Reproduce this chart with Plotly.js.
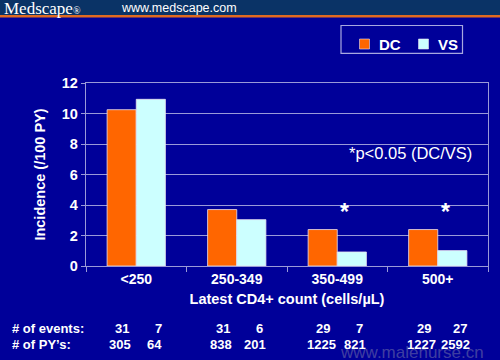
<!DOCTYPE html>
<html>
<head>
<meta charset="utf-8">
<script src="https://cdn.plot.ly/plotly-3.0.1.min.js"></script>
<style>
html,body{margin:0;padding:0;background:#000099;}
#chart{width:500px;height:360px;}
</style>
</head>
<body>
<div id="chart"></div>
<script>
// ---- data ----
var categories = ["<250", "250-349", "350-499", "500+"];
var seriesNames = ["DC", "VS"];
var dcValues = [10.25, 3.7, 2.39, 2.39];
var vsValues = [10.93, 3.04, 0.92, 1.01];
var eventsDC = [31, 31, 29, 29];
var eventsVS = [7, 6, 7, 27];
var pyDC = [305, 838, 1225, 1227];
var pyVS = [64, 201, 821, 2592];
var significant = [false, false, true, true];
var yTicks = [0, 2, 4, 6, 8, 10, 12];

// ---- layout geometry ----
var W = 500, H = 360;
var mL = 86, mR = 12, mT = 83, mB = 94;
var pw = W - mL - mR, ph = H - mT - mB;
function px(x) { return (x - mL) / pw; }
function py(y) { return (H - mB - y) / ph; }

var font = "Liberation Sans, Arial, sans-serif";
var grid = "#9a9ad8";
var colors = ["#ff6600", "#ccffff"];

var traces = [
  {type: "bar", name: seriesNames[0], x: categories, y: dcValues,
   marker: {color: colors[0], line: {color: "#e8e0f0", width: 0.8}}, hoverinfo: "none"},
  {type: "bar", name: seriesNames[1], x: categories, y: vsValues,
   marker: {color: colors[1], line: {color: "#e8e0f0", width: 0.8}}, hoverinfo: "none"}
];

var ann = [];
// header texts
ann.push({xref: "paper", yref: "paper", x: px(2), y: py(8), xanchor: "left", yanchor: "middle",
  text: "Medscape<span style='font-size:10px'>®</span>", showarrow: false,
  font: {family: "Liberation Serif, Times New Roman, serif", size: 17, color: "#ffffff"}});
ann.push({xref: "paper", yref: "paper", x: px(119), y: py(8), xanchor: "left", yanchor: "middle",
  text: "www.medscape.com", showarrow: false,
  font: {family: font, size: 12.5, color: "#ffffff"}});
// p-value note
ann.push({xref: "paper", yref: "paper", x: px(410), y: py(153), xanchor: "center", yanchor: "middle",
  text: "*p<0.05 (DC/VS)", showarrow: false, font: {family: font, size: 16.5, color: "#ffffff"}});
// asterisks
for (var i = 0; i < categories.length; i++) {
  if (significant[i]) {
    ann.push({xref: "x", yref: "y", x: i + 0.075, y: 3.55, xanchor: "center", yanchor: "middle",
      text: "<b>*</b>", showarrow: false, font: {family: font, size: 23, color: "#ffffff"}});
  }
}
// table row labels
ann.push({xref: "paper", yref: "paper", x: px(10), y: py(328), xanchor: "left", yanchor: "middle",
  text: "<b># of events:</b>", showarrow: false, font: {family: font, size: 13, color: "#ffffff"}});
ann.push({xref: "paper", yref: "paper", x: px(10), y: py(344), xanchor: "left", yanchor: "middle",
  text: "<b># of PY\u2019s:</b>", showarrow: false, font: {family: font, size: 13, color: "#ffffff"}});
// table values
for (var j = 0; j < categories.length; j++) {
  ann.push({xref: "x", yref: "paper", x: j - 0.14, y: py(328), xanchor: "center", yanchor: "middle",
    text: "<b>" + eventsDC[j] + "</b>", showarrow: false, font: {family: font, size: 13, color: "#ffffff"}});
  ann.push({xref: "x", yref: "paper", x: j + 0.225, y: py(328), xanchor: "center", yanchor: "middle",
    text: "<b>" + eventsVS[j] + "</b>", showarrow: false, font: {family: font, size: 13, color: "#ffffff"}});
  ann.push({xref: "x", yref: "paper", x: j - 0.16, y: py(344), xanchor: "center", yanchor: "middle",
    text: "<b>" + pyDC[j] + "</b>", showarrow: false, font: {family: font, size: 13, color: "#ffffff"}});
  ann.push({xref: "x", yref: "paper", x: j + 0.18, y: py(344), xanchor: "center", yanchor: "middle",
    text: "<b>" + pyVS[j] + "</b>", showarrow: false, font: {family: font, size: 13, color: "#ffffff"}});
}
// watermark
ann.push({xref: "paper", yref: "paper", x: px(412), y: py(352), xanchor: "center", yanchor: "middle",
  text: "www.malenurse.cn", showarrow: false,
  font: {family: font, size: 17, color: "rgba(160,160,175,0.4)"}});

var shapes = [
  {type: "rect", xref: "paper", yref: "paper", x0: px(0), x1: px(W), y0: py(15), y1: py(0),
   fillcolor: "#0a3366", line: {width: 0}, layer: "below"},
  {type: "rect", xref: "paper", yref: "paper", x0: px(0), x1: px(W), y0: py(17.5), y1: py(15),
   fillcolor: "#e06a20", line: {width: 0}, layer: "below"},
  // legend box
  {type: "rect", xref: "paper", yref: "paper", x0: px(341), x1: px(462.5), y0: py(53.3), y1: py(25.5),
   fillcolor: "rgba(0,0,0,0)", line: {color: "#a8a8e0", width: 1.2}}
];
// legend entries
var legX = [359.5, 418.5];
for (var k = 0; k < seriesNames.length; k++) {
  shapes.push({type: "rect", xref: "paper", yref: "paper", x0: px(legX[k]), x1: px(legX[k] + 10),
    y0: py(49), y1: py(39), fillcolor: colors[k], line: {color: "#e8e0f0", width: 0.6}});
  ann.push({xref: "paper", yref: "paper", x: px(legX[k] + 17), y: py(44), xanchor: "left", yanchor: "middle",
    text: "<b>" + seriesNames[k] + "</b>", showarrow: false, font: {family: font, size: 15, color: "#ffffff"}});
}

var layout = {
  width: W, height: H,
  margin: {l: mL, r: mR, t: mT, b: mB, pad: 0},
  paper_bgcolor: "#000099", plot_bgcolor: "#000099",
  barmode: "group", bargap: 0.42, bargroupgap: 0,
  showlegend: false,
  xaxis: {type: "category", tickson: "boundaries", ticks: "outside", ticklen: 5, tickcolor: grid,
    showline: true, linecolor: grid, linewidth: 1.2, mirror: true, showgrid: false,
    tickfont: {family: font, size: 14, color: "#ffffff", weight: "bold"},
    title: {text: "<b>Latest CD4+ count (cells/\u00b5L)</b>", standoff: 7,
      font: {family: font, size: 14.5, color: "#ffffff"}},
    fixedrange: true},
  yaxis: {range: [0, 12], tickvals: yTicks, ticks: "outside", ticklen: 4, tickcolor: grid,
    showline: true, linecolor: grid, linewidth: 1.2, mirror: true,
    showgrid: true, gridcolor: grid, gridwidth: 1, zeroline: false,
    tickfont: {family: font, size: 14.5, color: "#ffffff", weight: "bold"},
    title: {text: "<b>Incidence (/100 PY)</b>", standoff: 12,
      font: {family: font, size: 14.5, color: "#ffffff"}},
    fixedrange: true},
  annotations: ann,
  shapes: shapes,
  font: {family: font, color: "#ffffff"}
};

Plotly.newPlot("chart", traces, layout, {displayModeBar: false, staticPlot: true});
</script>
</body>
</html>
